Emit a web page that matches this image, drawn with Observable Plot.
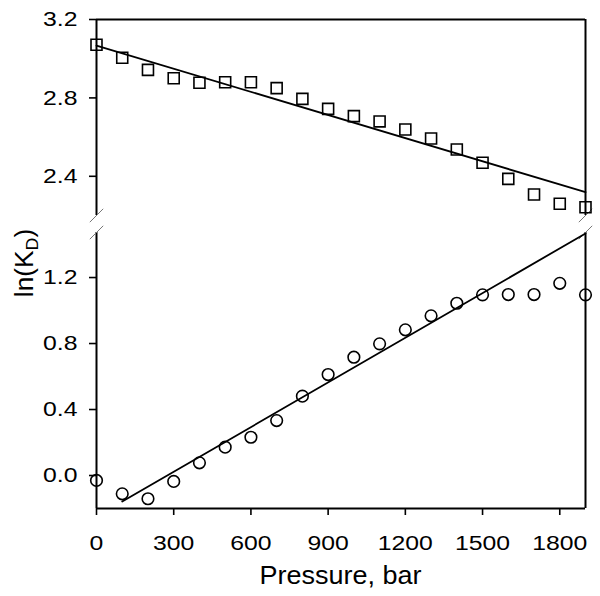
<!DOCTYPE html>
<html>
<head>
<meta charset="utf-8">
<script src="https://cdn.jsdelivr.net/npm/d3@7"></script>
<script src="https://cdn.jsdelivr.net/npm/@observablehq/plot@0.6"></script>
<style>
  html, body { margin: 0; padding: 0; background: #fff; }
  #chart svg { display: block; }
</style>
</head>
<body>
<div id="chart"></div>
<script>
// ---- data ----
const pressure = [0,100,200,300,400,500,600,700,800,900,1000,1100,1200,1300,1400,1500,1600,1700,1800,1900];
const squaresLnKD = [3.071,3.005,2.943,2.900,2.877,2.880,2.880,2.850,2.795,2.744,2.707,2.680,2.639,2.593,2.537,2.469,2.387,2.307,2.260,2.242];
const circlesLnKD = [-0.030,-0.111,-0.141,-0.036,0.077,0.172,0.232,0.333,0.481,0.612,0.717,0.798,0.883,0.968,1.044,1.095,1.097,1.097,1.165,1.095];
const topFitX = [0, 1900];
const topFitY = [3.067, 2.319];
const bottomFitX = [100, 1900];
const bottomFitY = [-0.158, 1.467];
const xTicks = [0,300,600,900,1200,1500,1800];
const yTicksTop = [2.4, 2.8, 3.2];
const yTicksBottom = [0.0, 0.4, 0.8, 1.2];
const topDomain = [2.2, 3.2];
const bottomDomain = [-0.2, 1.473];
const xDomain = [0, 1900];

// ---- broken-axis mapping into a single continuous linear scale ----
const bottomSpan = 276, gapSpan = 17, topSpan = 196;
function f(v) {
  if (v < 2) return (v - bottomDomain[0]) / (bottomDomain[1] - bottomDomain[0]) * bottomSpan;
  return bottomSpan + gapSpan + (v - topDomain[0]) / (topDomain[1] - topDomain[0]) * topSpan;
}
const yTotal = bottomSpan + gapSpan + topSpan;

const squares = pressure.map((p, i) => ({p, v: squaresLnKD[i]}));
const circles = pressure.map((p, i) => ({p, v: circlesLnKD[i]}));
const topFit = topFitX.map((p, i) => ({p, v: topFitY[i]}));
const bottomFit = bottomFitX.map((p, i) => ({p, v: bottomFitY[i]}));

const tickLabel = new Map();
yTicksTop.concat(yTicksBottom).forEach(t => tickLabel.set(+f(t).toFixed(6), t.toFixed(1)));

const frameSegments = [
  {x: xDomain[0], lo: bottomDomain[0], hi: bottomDomain[1]},
  {x: xDomain[0], lo: topDomain[0], hi: topDomain[1]},
  {x: xDomain[1], lo: bottomDomain[0], hi: bottomDomain[1]},
  {x: xDomain[1], lo: topDomain[0], hi: topDomain[1]}
];
const breakMarks = [
  {x: xDomain[0], v: topDomain[0]}, {x: xDomain[0], v: bottomDomain[1]},
  {x: xDomain[1], v: topDomain[0]}, {x: xDomain[1], v: bottomDomain[1]}
];
const slash = {
  draw(context, size) {
    const h = Math.sqrt(size / Math.PI);
    context.moveTo(-h, h);
    context.lineTo(h, -h);
  }
};

const svg = Plot.plot({
  width: 600,
  height: 596,
  marginLeft: 96,
  marginRight: 15,
  marginTop: 19,
  marginBottom: 88,
  style: {fontFamily: "'Liberation Sans', Arial, sans-serif", color: "#000", background: "#fff"},
  x: {domain: xDomain},
  y: {domain: [0, yTotal]},
  marks: [
    Plot.axisX({ticks: xTicks, tickSize: 7, tickPadding: 20, fontSize: 21, label: null, strokeWidth: 1.6, tickFormat: d => String(d)}),
    Plot.axisY({ticks: yTicksTop.concat(yTicksBottom).map(f), tickSize: 7, tickPadding: 12, fontSize: 21, label: null, strokeWidth: 1.6,
      tickFormat: u => tickLabel.get(+u.toFixed(6)) ?? ""}),
    Plot.ruleX(frameSegments, {x: "x", y1: d => f(d.lo), y2: d => f(d.hi), stroke: "#000", strokeWidth: 2}),
    Plot.ruleY([f(topDomain[1]), f(bottomDomain[0])], {stroke: "#000", strokeWidth: 2}),
    Plot.dot(breakMarks, {x: "x", y: d => f(d.v), symbol: slash, r: 6.7, stroke: "#777", strokeWidth: 1, fill: "none"}),
    Plot.line(topFit, {x: "p", y: d => f(d.v), stroke: "#000", strokeWidth: 1.8}),
    Plot.line(bottomFit, {x: "p", y: d => f(d.v), stroke: "#000", strokeWidth: 1.8}),
    Plot.dot(squares, {x: "p", y: d => f(d.v), symbol: "square", r: 6.2, stroke: "#000", strokeWidth: 1.6, fill: "none"}),
    Plot.dot(circles, {x: "p", y: d => f(d.v), symbol: "circle", r: 5.8, stroke: "#000", strokeWidth: 1.6, fill: "none"})
  ]
});

const s = d3.select(svg);
// the reference glyphs are drawn horizontally wider: stretch tick labels about their anchors
s.selectAll("text").each(function() {
  const t = d3.select(this);
  t.style("font-size", "21px");
  const tr = t.attr("transform");
  if (tr) {
    t.attr("transform", tr + " scale(1.18,1)");
  } else {
    const x = +(t.attr("x") || 0), y = +(t.attr("y") || 0);
    t.attr("x", null).attr("y", null).attr("transform", `translate(${x},${y}) scale(1.18,1)`);
  }
});

s.append("text")
  .attr("transform", "translate(340.5,584) scale(1.08,1)")
  .attr("text-anchor", "middle")
  .style("font-size", "25px")
  .attr("fill", "#000")
  .text("Pressure, bar");

const yl = s.append("text")
  .attr("transform", "translate(33,263) rotate(-90) scale(1.05,1)")
  .attr("text-anchor", "middle")
  .style("font-size", "25px")
  .attr("fill", "#000");
yl.append("tspan").text("ln(K");
yl.append("tspan").style("font-size", "17px").attr("dy", 5).text("D");
yl.append("tspan").attr("dy", -5).text(")");

document.getElementById("chart").appendChild(svg);
</script>
</body>
</html>
